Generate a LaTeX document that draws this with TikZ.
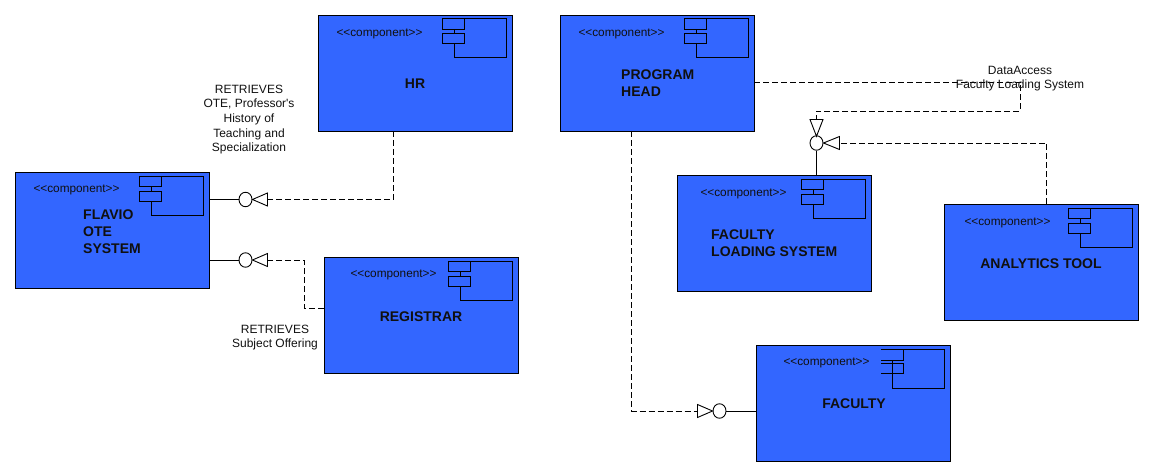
\documentclass[tikz,border=0pt]{standalone}
\usepackage{fontspec}
\setmainfont{Liberation Sans}[Ligatures=TeXOff]
\usetikzlibrary{shapes.geometric}
\newcommand{\compicon}[1]{%
  \draw[iconline] ([shift={(-59,43)}]#1.north east) -- ([shift={(-59,4)}]#1.north east) -- ([shift={(-7,4)}]#1.north east) -- ([shift={(-7,43)}]#1.north east) -- cycle;
  \draw[iconline,fill=compblue] ([shift={(-71,4)}]#1.north east) rectangle ([shift={(-49,14.5)}]#1.north east);
  \draw[iconline,fill=compblue] ([shift={(-71,19)}]#1.north east) rectangle ([shift={(-49,29)}]#1.north east);
}
\newcommand{\stereotext}{<{}<{}component>{}>}
\definecolor{compblue}{HTML}{3366FF}
\definecolor{lbl}{HTML}{101010}
\tikzset{
  x=1pt,y=-1pt,
  comp/.style={draw=black,fill=compblue,line width=1.1pt,minimum width=194pt,minimum height=116pt,inner sep=0pt,anchor=north west},
  iconline/.style={draw=black,line width=1pt},
  stereo/.style={font=\fontsize{11.8}{14}\selectfont,text=lbl,inner sep=0pt},
  title/.style={font=\fontsize{14}{17}\selectfont\bfseries,text=lbl,inner sep=0pt,align=left},
  note/.style={font=\fontsize{12}{14.7}\selectfont,text=lbl,inner sep=0pt,align=center},
  socket/.style={draw=black,fill=white,ellipse,line width=0.9pt,minimum width=13pt,minimum height=14.5pt,inner sep=0pt},
  realize/.style={draw=black,fill=white,line width=0.9pt,line join=miter},
  conn/.style={draw=black,line width=0.9pt},
  dep/.style={draw=black,line width=0.9pt,dash pattern=on 6pt off 3pt},
}
\begin{document}
\begin{tikzpicture}
\useasboundingbox (0,0) rectangle (1154,476);
% components
\node[comp] (flavio) at (15,172) {};
\node[comp] (hr) at (318,15) {};
\node[comp] (registrar) at (324,257) {};
\node[comp] (head) at (560,15) {};
\node[comp] (loading) at (677,175) {};
\node[comp] (analytics) at (944,204) {};
\node[comp] (faculty) at (756,345) {};
% icons
\compicon{flavio}
\compicon{hr}
\compicon{registrar}
\compicon{head}
\compicon{loading}
\compicon{analytics}
\draw[iconline] ([shift={(-59,43)}]faculty.north east) -- ([shift={(-59,15)}]faculty.north east);
\draw[iconline] ([shift={(-48,4)}]faculty.north east) -- ([shift={(-7,4)}]faculty.north east) -- ([shift={(-7,43)}]faculty.north east) -- ([shift={(-59,43)}]faculty.north east);
\draw[iconline] ([shift={(-70,4)}]faculty.north east) -- ([shift={(-48,4)}]faculty.north east) -- ([shift={(-48,15)}]faculty.north east) -- ([shift={(-70,15)}]faculty.north east);
\draw[iconline] ([shift={(-70,18)}]faculty.north east) -- ([shift={(-48,18)}]faculty.north east) -- ([shift={(-48,28)}]faculty.north east) -- ([shift={(-70,28)}]faculty.north east);
% stereotypes
\node[stereo] (s1) at (76.5,190) {\stereotext};
\node[stereo] (s2) at (379.5,33.5) {\stereotext};
\node[stereo] (s3) at (393.5,275) {\stereotext};
\node[stereo] (s4) at (621.5,33.5) {\stereotext};
\node[stereo] (s5) at (743.5,193.5) {\stereotext};
\node[stereo] (s6) at (1007.5,223) {\stereotext};
\node[stereo] (s7) at (826.5,363) {\stereotext};
% titles
\node[title,anchor=west] (t1a) at (83,215) {FLAVIO};
\node[title,anchor=west] (t1b) at (83,232) {OTE};
\node[title,anchor=west] (t1c) at (83,249) {SYSTEM};
\node[title] (t2) at (415,84) {HR};
\node[title] (t3) at (421,317) {REGISTRAR};
\node[title,anchor=west] (t4a) at (621,75) {PROGRAM};
\node[title,anchor=west] (t4b) at (621,92) {HEAD};
\node[title,anchor=west] (t5a) at (711,235) {FACULTY};
\node[title,anchor=west] (t5b) at (711,252) {LOADING SYSTEM};
\node[title] (t6) at (1041,264) {ANALYTICS TOOL};
\node[title] (t7) at (854,404) {FACULTY};
% sockets
\node[socket] (sa) at (245.5,199.5) {};
\node[socket] (sb) at (245.5,260) {};
\node[socket] (sc) at (816.5,143) {};
\node[socket] (sd) at (719.5,411) {};
% realization triangles: named base midpoints
\coordinate (ta) at (267.5,199.5);
\coordinate (tb) at (267.5,260);
\coordinate (tc) at (816.5,119.5);
\coordinate (te) at (839.5,143);
\coordinate (td) at (697.5,411);
\draw[realize] (sa.east) -- ([yshift=-6.5]ta) -- ([yshift=6.5]ta) -- cycle;
\draw[realize] (sb.east) -- ([yshift=-6.5]tb) -- ([yshift=6.5]tb) -- cycle;
\draw[realize] ([yshift=-1]sc.north) -- ([xshift=-6.5]tc) -- ([xshift=6.5]tc) -- cycle;
\draw[realize] (sc.east) -- ([yshift=-6.5]te) -- ([yshift=6.5]te) -- cycle;
\draw[realize] (sd.west) -- ([yshift=-6.5]td) -- ([yshift=6.5]td) -- cycle;
% solid connectors
\draw[conn] (flavio.east |- sa) -- (sa);
\draw[conn] (flavio.east |- sb) -- (sb);
\draw[conn] (loading.north -| sc) -- (sc);
\draw[conn] (faculty.west |- sd) -- (sd);
% dashed connectors
\coordinate (hrb) at (393.5,131);
\coordinate (regw) at (324,308);
\coordinate (headr) at (754,82);
\coordinate (headb) at (631.5,131);
\coordinate (antop) at (1046.5,204);
\draw[dep] (hrb) -- (ta -| hrb) -- (ta);
\draw[dep] (regw) -- (304,308) -- (304,260) -- (tb);
\draw[dep] (headr) -- (1020.5,82) -- (1020.5,111) -- (816.5,111) -- (tc);
\draw[dep] (antop) -- (1046.5,143) -- (te);
\draw[dep] (headb) -- (631.5,411) -- (td);
% notes
\node[note] (n1) at (249,119.5) {RETRIEVES\\OTE, Professor's\\History of\\Teaching and\\Specialization};
\node[note] (n2) at (275,337.5) {RETRIEVES\\Subject Offering};
\node[note] (n3) at (1020,78.5) {DataAccess\\Faculty Loading System};
\end{tikzpicture}
\end{document}
